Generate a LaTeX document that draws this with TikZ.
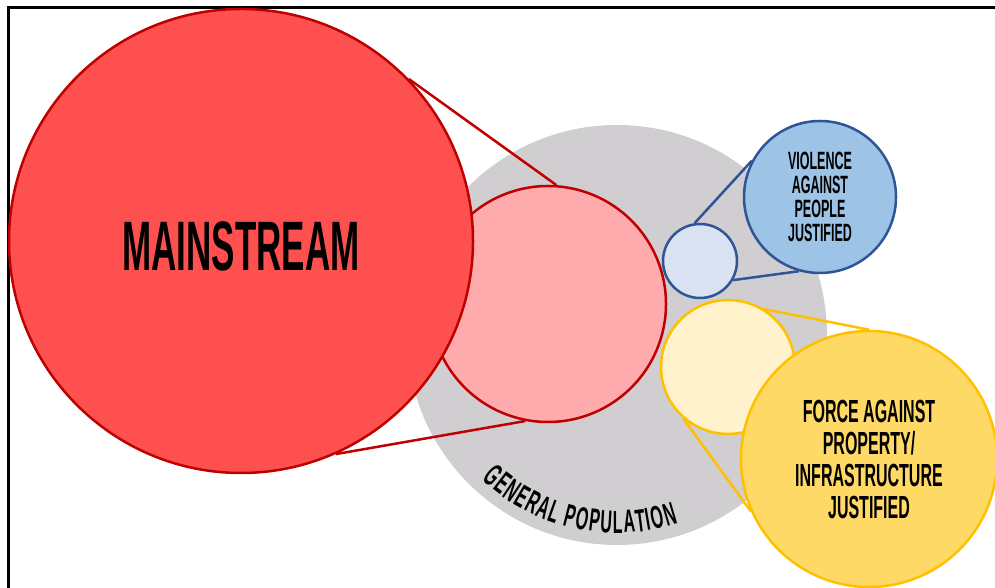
\documentclass[tikz,border=0pt]{standalone}
\usepackage{fontspec}
\usepackage{tikz}
\usetikzlibrary{decorations.text}
\newfontfamily\handfont{Liberation Sans}[FakeStretch=0.5]

\definecolor{popgray}{HTML}{D0CED0}
\definecolor{mainred}{HTML}{FF5050}
\definecolor{mainpink}{HTML}{FFABAE}
\definecolor{reddark}{HTML}{C00000}
\definecolor{bluedark}{HTML}{2F5597}
\definecolor{bluelight}{HTML}{DAE3F3}
\definecolor{bluemid}{HTML}{9DC3E6}
\definecolor{yellowdark}{HTML}{FFC000}
\definecolor{yellowlight}{HTML}{FFF2CC}
\definecolor{yellowmid}{HTML}{FFD966}

\begin{document}
\begin{tikzpicture}[x=1pt, y=1pt,
    bubble/.style={circle, draw, line width=2.5pt, inner sep=0pt, align=center, text=black},
    link/.style={line width=2.5pt}]
        \useasboundingbox (0,0) rectangle (995,588);
        % frame
        \draw[line width=3pt] (8,0) -- (8,580) -- (995,580);
        % general population
        \node[circle, fill=popgray, minimum size=420pt] (pop) at (617,253) {};
        \path[decorate, decoration={text along path, text align={fit to path},
            text={|\handfont\bfseries\fontsize{32}{32}\selectfont|GENERAL POPULATION}}]
            (pop.center) ++(-133:198) arc[start angle=-133, end angle=-72, radius=198];
        % mainstream
        \node[bubble, draw=reddark, fill=mainpink, minimum size=236pt] (pink) at (548,284) {};
        \node[bubble, draw=reddark, fill=mainred, minimum size=464pt, text height=60pt,
            font=\handfont\bfseries\fontsize{70}{70}\selectfont] (main) at (241,347) {MAINSTREAM};
        % violence against people
        \node[bubble, draw=bluedark, fill=bluelight, minimum size=74pt] (vsmall) at (700,327) {};
        \node[bubble, draw=bluedark, fill=bluemid, minimum size=152pt,
            font=\handfont\bfseries\fontsize{25}{24}\selectfont] (vbig) at (820,391)
            {VIOLENCE\\AGAINST\\PEOPLE\\JUSTIFIED};
        % force against property
        \node[bubble, draw=yellowdark, fill=yellowlight, minimum size=134pt] (fsmall) at (728,221) {};
        \node[bubble, draw=yellowdark, fill=yellowmid, minimum size=256pt,
            font=\handfont\bfseries\fontsize{32}{32}\selectfont] (fbig) at (869,129)
            {FORCE AGAINST\\PROPERTY/\\INFRASTRUCTURE\\JUSTIFIED};
        % zoom lines
        \draw[link, reddark] (main.44) -- (pink.86);
        \draw[link, reddark] (main.-66) -- (pink.-101);
        \draw[link, bluedark] (vsmall.98) -- (vbig.152);
        \draw[link, bluedark] (vsmall.-30) -- (vbig.-106);
        \draw[link, yellowdark] (fsmall.58) -- (fbig.90);
        \draw[link, yellowdark] (fsmall.-131) -- (fbig.-156);
    \end{tikzpicture}
\end{document}
